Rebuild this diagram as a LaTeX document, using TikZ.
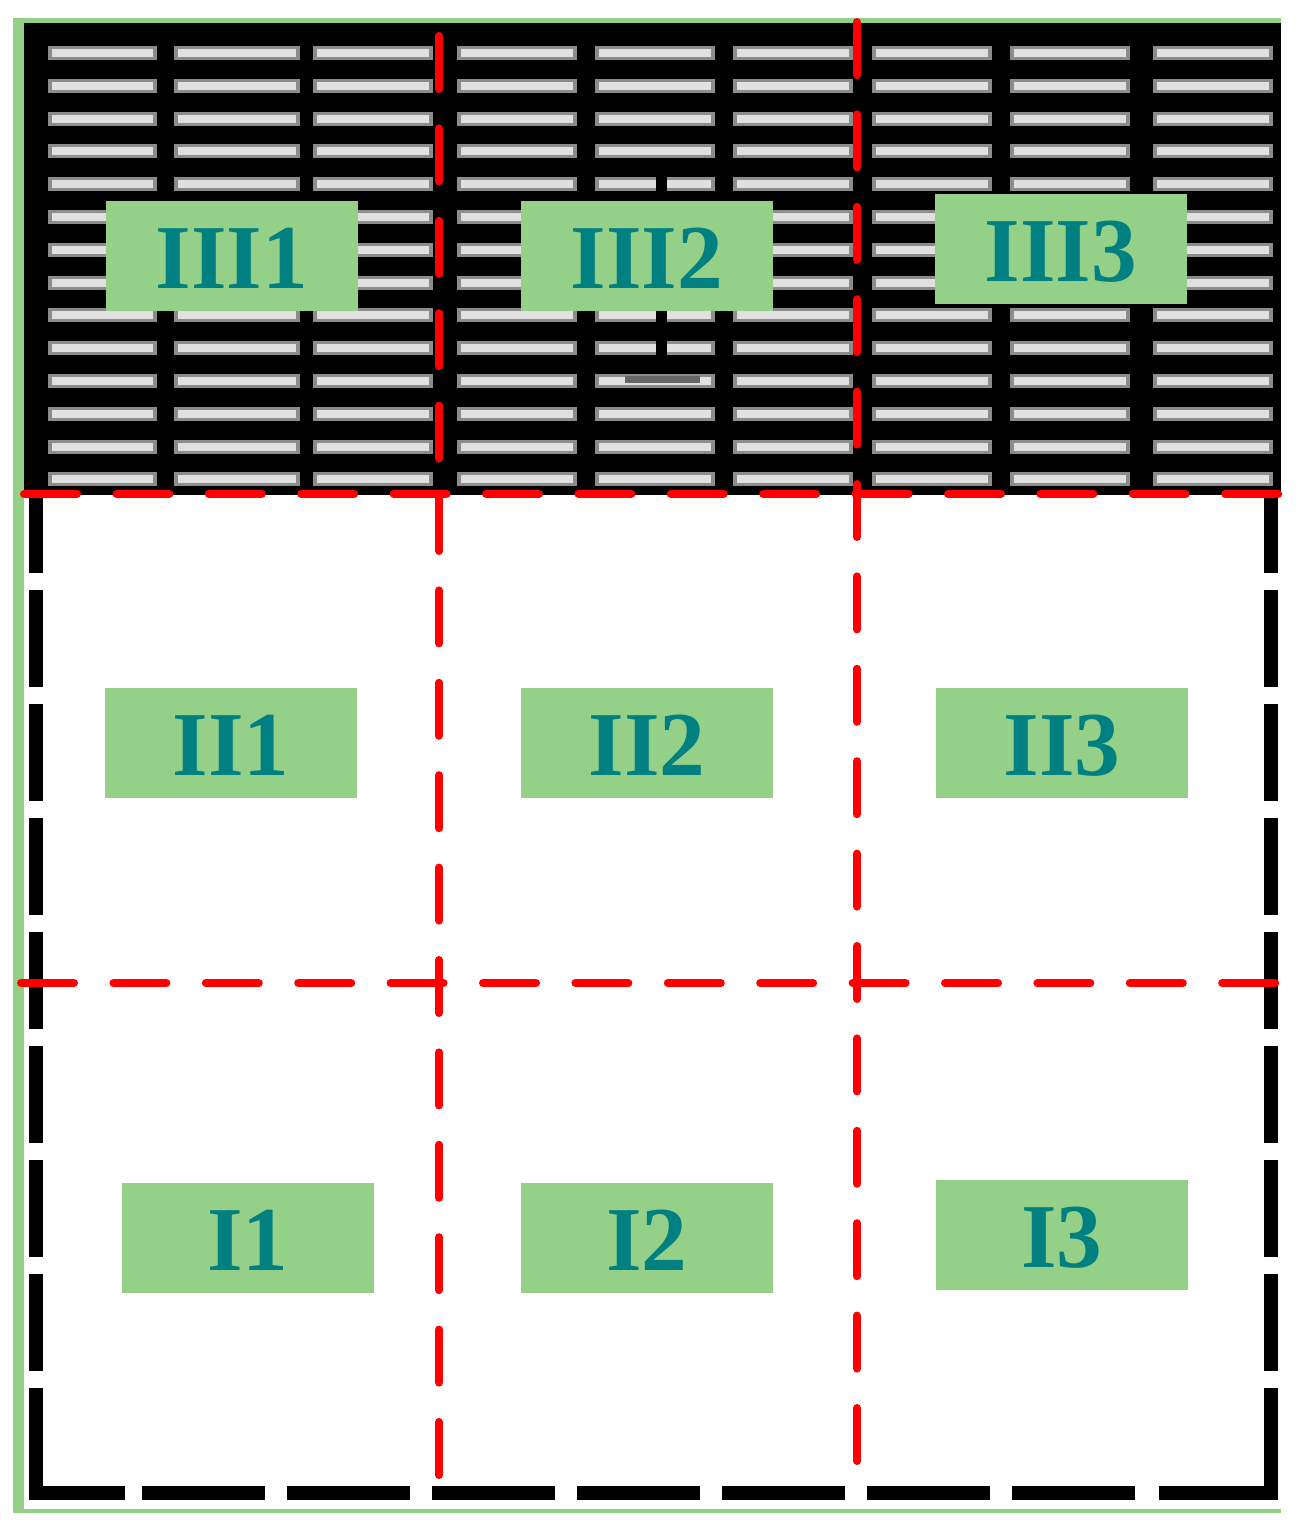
\documentclass[tikz,border=0pt]{standalone}
\usepackage{fontspec}
\newfontfamily\zonefont{Liberation Serif}
\definecolor{zonegreen}{RGB}{149,208,137}
\definecolor{zoneteal}{RGB}{0,128,128}
\begin{document}
\begin{tikzpicture}[
    x=0.1mm, y=-0.1mm,
    zone/.style={rectangle, fill=zonegreen, minimum width=25.2mm, minimum height=11mm, inner sep=0pt, text height=6.4mm, text depth=0pt, text=zoneteal, font=\zonefont\bfseries\fontsize{26}{26}\selectfont},
    divider/.style={draw=red, line width=0.8mm, line cap=round, dash pattern=on 5.3mm off 3.94mm},
    wall/.style={draw=black, line width=1.4mm},
    slat/.style={fill=black!45},
    slatlight/.style={fill=white!88!black}
]
    \useasboundingbox (0,0) rectangle (1298,1530);
    \fill[zonegreen] (13,18) rectangle (1281,23);
    \fill[zonegreen] (13,18) rectangle (24,1513);
    \fill[zonegreen] (13,1509) rectangle (1281,1513);
    \fill[black] (24,23) rectangle (1281,495);
    \foreach \xs/\w in {48/109,174/126,313/120,457/120,595/120,733/120,872/120,1010/120,1153/120}
        \foreach \k in {0,...,13} {
            \fill[slat] (\xs,{53+32.8*\k-7}) rectangle ++(\w,14);
            \fill[slatlight] ({\xs+4},{53+32.8*\k-4}) rectangle ++({\w-8},8);
        }
    \fill[black] (656,172) rectangle (667,362);
    \fill[black!60] (625,376) rectangle (700,383);
    \draw[wall] (36,1388) -- (36,1493) -- (125,1493);
    \draw[wall] (1159,1493) -- (1271,1493) -- (1271,1388);
    \draw[wall, dash pattern=on 9.7mm off 1.7mm] (36,1371) -- (36,495);
    \draw[wall, dash pattern=on 9.7mm off 1.7mm] (1271,1371) -- (1271,495);
    \draw[wall, dash pattern=on 12.3mm off 2.2mm] (142,1493) -- (1142,1493);
    \node[zone] (III1) at (232,256) {III1};
    \node[zone] (III2) at (647,256) {III2};
    \node[zone] (III3) at (1061,249) {III3};
    \node[zone] (II1) at (231,743) {II1};
    \node[zone] (II2) at (647,743) {II2};
    \node[zone] (II3) at (1062,743) {II3};
    \node[zone] (I1) at (248,1238) {I1};
    \node[zone] (I2) at (647,1238) {I2};
    \node[zone] (I3) at (1062,1235) {I3};
    \draw[divider] (439,36) -- (439,1475);
    \draw[divider] (857,22) -- (857,1463);
    \draw[divider] (24,494) -- (1282,494);
    \draw[divider] (21,983) -- (1282,983);
\end{tikzpicture}
\end{document}
